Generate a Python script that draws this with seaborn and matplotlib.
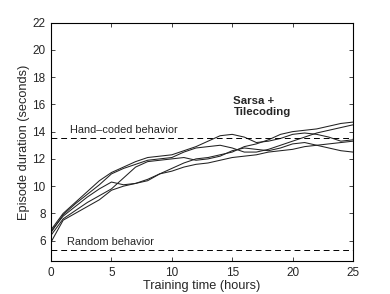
import matplotlib
matplotlib.use("Agg")
import matplotlib.pyplot as plt
import seaborn as sns
import pandas as pd
import numpy as np

# training time in hours
hours = list(range(26))

# five learning runs (episode duration in seconds)
run_a = [6.8, 8.0, 8.8, 9.6, 10.4, 11.0, 11.4, 11.8, 12.1, 12.2, 12.3, 12.6, 12.9,
         13.3, 13.7, 13.8, 13.6, 13.2, 13.3, 13.5, 13.8, 13.9, 13.8, 13.6, 13.3, 13.4]
run_b = [6.6, 7.9, 8.7, 9.4, 10.1, 10.9, 11.3, 11.6, 11.9, 12.0, 12.1, 12.5, 12.8,
         12.9, 13.0, 12.8, 12.5, 12.5, 12.7, 13.0, 13.3, 13.6, 13.9, 14.1, 14.3, 14.5]
run_c = [6.7, 7.8, 8.5, 9.2, 9.8, 10.3, 10.1, 10.2, 10.4, 10.9, 11.3, 11.7, 12.0,
         12.1, 12.3, 12.5, 12.9, 13.1, 13.4, 13.8, 14.0, 14.1, 14.2, 14.4, 14.6, 14.7]
run_d = [6.4, 7.6, 8.2, 8.8, 9.3, 9.8, 10.6, 11.4, 11.8, 11.9, 12.0, 12.1, 11.9,
         12.0, 12.2, 12.6, 12.8, 12.7, 12.6, 12.8, 13.1, 13.2, 13.0, 12.8, 12.6, 12.5]
run_e = [5.9, 7.5, 8.0, 8.5, 9.0, 9.7, 10.0, 10.2, 10.5, 10.9, 11.1, 11.4, 11.6,
         11.7, 11.9, 12.1, 12.2, 12.3, 12.5, 12.6, 12.7, 12.9, 13.0, 13.1, 13.2, 13.3]

hand_coded = 13.55
random_behavior = 5.3

runs = {"a": run_a, "b": run_b, "c": run_c, "d": run_d, "e": run_e}
df = pd.concat([pd.DataFrame({"hours": hours, "duration": v, "run": k})
                for k, v in runs.items()])

sns.set_style("ticks")
plt.rcParams['font.family'] = ['Liberation Sans', 'DejaVu Sans']

fig = plt.figure(figsize=(3.9, 2.94), dpi=100)
ax = fig.add_axes([0.131, 0.112, 0.774, 0.811])

sns.lineplot(data=df, x="hours", y="duration", hue="run",
             palette=["#222222"] * 5, linewidth=0.75, legend=False, ax=ax)

ax.axhline(hand_coded, color="black", linestyle=(0, (6, 4)), linewidth=0.7)
ax.axhline(random_behavior, color="black", linestyle=(0, (6, 4)), linewidth=0.7)

ax.text(1.55, hand_coded + 0.2, "Hand\u2013coded behavior", fontsize=7.9, va="bottom")
ax.text(1.3, random_behavior + 0.25, "Random behavior", fontsize=7.9, va="bottom")
ax.text(15.1, 15.1, "Sarsa +\nTilecoding", fontsize=8.2, fontweight="bold",
        va="bottom", linespacing=1.1)

ax.set_xlim(0, 25)
ax.set_ylim(4.5, 22)
ax.set_xticks([0, 5, 10, 15, 20, 25])
ax.set_yticks([6, 8, 10, 12, 14, 16, 18, 20, 22])
ax.tick_params(direction="in", top=True, right=True, labelsize=8.5,
               length=3, width=0.6, pad=4)
for s in ax.spines.values():
    s.set_linewidth(0.8)
    s.set_color("black")

ax.set_xlabel("Training time (hours)", fontsize=9.2, labelpad=1)
ax.set_ylabel("Episode duration (seconds)", fontsize=9.2, labelpad=2)

fig.savefig("out.png", dpi=100)
